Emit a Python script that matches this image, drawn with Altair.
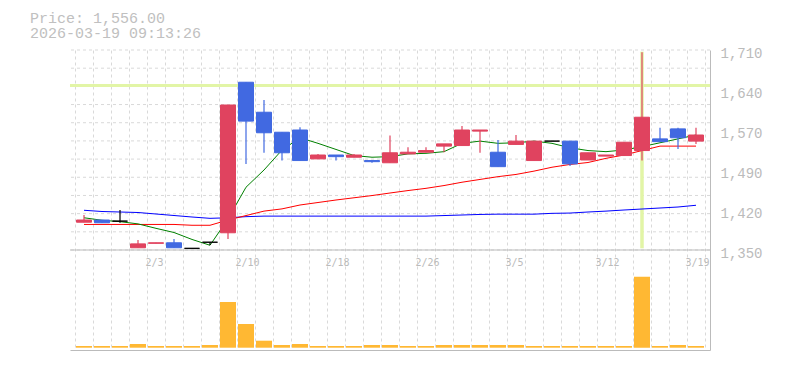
import altair as alt
import pandas as pd
import numpy as np

# ---------------- data ----------------
dates = ["1/28", "1/29", "1/30", "2/2", "2/3", "2/4", "2/5", "2/6", "2/9", "2/10",
         "2/12", "2/13", "2/16", "2/17", "2/18", "2/19", "2/20", "2/24", "2/25", "2/26",
         "2/27", "3/2", "3/3", "3/4", "3/5", "3/6", "3/9", "3/10", "3/11", "3/12",
         "3/13", "3/16", "3/17", "3/18", "3/19"]
opens = [1400, 1404, 1402, 1354, 1362, 1363, 1353, 1364, 1381, 1652,
         1598, 1562, 1566, 1514, 1521, 1517, 1511, 1507, 1523, 1526,
         1537, 1538, 1564, 1526, 1540, 1511, 1546, 1546, 1512, 1519,
         1520, 1529, 1550, 1568, 1546]
highs = [1413, 1404, 1422, 1368, 1363, 1370, 1353, 1364, 1611, 1652,
         1620, 1562, 1571, 1523, 1521, 1523, 1511, 1556, 1535, 1535,
         1541, 1573, 1566, 1548, 1557, 1546, 1546, 1546, 1525, 1521,
         1544, 1706, 1570, 1570, 1570]
lows = [1400, 1399, 1399, 1354, 1362, 1354, 1353, 1359, 1370, 1505,
        1525, 1511, 1511, 1514, 1511, 1517, 1507, 1507, 1523, 1526,
        1526, 1538, 1525, 1500, 1540, 1511, 1546, 1501, 1512, 1519,
        1520, 1511, 1545, 1532, 1541]
closes = [1404, 1399, 1402, 1361, 1363, 1354, 1353, 1364, 1611, 1582,
          1561, 1525, 1511, 1521, 1518, 1521, 1509, 1525, 1526, 1529,
          1541, 1566, 1566, 1500, 1546, 1546, 1546, 1505, 1525, 1521,
          1544, 1589, 1545, 1552, 1557]
volumes = [17000, 17000, 17000, 37000, 17000, 17000, 17000, 27000, 457000, 237000,
           70000, 27000, 37000, 17000, 17000, 17000, 27000, 27000, 17000, 17000,
           27000, 27000, 27000, 27000, 27000, 17000, 17000, 17000, 17000, 17000,
           17000, 710000, 17000, 27000, 17000]
ma_short = [1408, 1403.5, 1401, 1397, 1389, 1381.5, 1369, 1358.5, 1406, 1463,
            1494, 1530, 1552, 1542, 1531, 1520, 1517, 1518, 1523, 1524,
            1527, 1542, 1546, 1542, 1543, 1546, 1542, 1534, 1529, 1527,
            1530, 1536, 1543, 1550, 1557]
ma_mid = [1396, 1396, 1396, 1396, 1396, 1396, 1394.5, 1394.5, 1404, 1412,
          1420, 1424, 1431, 1435.5, 1440, 1444, 1448, 1452.6, 1457, 1461,
          1466, 1472, 1477, 1482, 1486, 1492, 1499, 1504, 1507.5, 1515,
          1521, 1529, 1537, 1537, 1537]
ma_long = [1421.5, 1419.3, 1418.4, 1417.5, 1414.8, 1412.1, 1409.4, 1407, 1408, 1410,
           1411, 1411, 1411, 1411, 1411, 1411, 1411, 1411, 1411, 1411,
           1412, 1413, 1414, 1414.5, 1414.5, 1414.5, 1416, 1416.5, 1418.4, 1420,
           1422, 1423.8, 1425.6, 1427.4, 1430.5]
price_now = 1556.00
timestamp = "2026-03-19 09:13:26"
ref_level = 1646
marker_day = "3/16"
marker_top = 1707
marker_bottom = 1353
price_ticks = [1350, 1422, 1494, 1566, 1638, 1710]
label_days = ["2/3", "2/10", "2/18", "2/26", "3/5", "3/12", "3/19"]

# ---------------- tables ----------------
n = len(dates)
idx = list(range(n))
df = pd.DataFrame(dict(idx=idx, date=dates, open=opens, high=highs, low=lows,
                       close=closes, volume=volumes))
df["dir"] = np.where(df.close > df.open, "up", np.where(df.close < df.open, "down", "flat"))
ma_df = pd.DataFrame(dict(idx=idx, short=ma_short, mid=ma_mid, long=ma_long))

PMIN, PMAX = price_ticks[0], price_ticks[-1]
price_domain = [PMIN - (PMAX - PMIN) / 2, PMAX]
grid_levels = list(np.linspace(PMIN, PMAX, 12))
vol_domain = [-23000, 2977000]

GRAY = "#bbbbbb"
GRID = "#d9d9d9"
UP = "#e0435f"
DOWN = "#4169e1"

boundaries = [i - 0.5 for i in range(n + 1)]
label_expr = " : ".join(
    f"datum.value == {dates.index(d) - 0.5} ? '{d}'" for d in label_days) + " : ''"

x_axis = alt.Axis(values=boundaries, title=None, grid=True, gridDash=[3, 3],
                  gridColor=GRID, gridWidth=1, domain=True, domainColor=GRAY,
                  ticks=False, tickSize=0, labelExpr=label_expr, labelAlign="left",
                  labelBaseline="middle", labelPadding=-88, labelOffset=-2,
                  labelFont="DejaVu Sans Mono", labelFontSize=10, labelColor=GRAY,
                  labelOverlap=False, labelFlush=False)
x_scale = alt.Scale(domain=[-0.5, n - 0.5], nice=False, zero=False)
X = alt.X("idx:Q", scale=x_scale, axis=x_axis)

y_axis = alt.Axis(orient="right", values=price_ticks, title=None, grid=False,
                  ticks=False, tickSize=0, domain=True, domainColor=GRAY,
                  labelExpr="format(round(datum.value/10)*10, ',')",
                  labelFont="Liberation Mono", labelFontSize=14, labelColor=GRAY,
                  labelPadding=10, labelAlign="left", labelBaseline="middle",
                  labelOffset=3, labelFlush=False, labelOverlap=False)
p_scale = alt.Scale(domain=price_domain, nice=False, zero=False)


def PY(field):
    return alt.Y(field, scale=p_scale, axis=y_axis, title=None)


dir_color = alt.Scale(domain=["up", "down", "flat"], range=[UP, DOWN, "#000000"])

base = alt.Chart(df)

hgrid = alt.Chart(pd.DataFrame({"level": grid_levels})).mark_rule(
    color=GRID, strokeDash=[3, 3], strokeWidth=1).encode(y=PY("level:Q"))

bottom_line = alt.Chart(pd.DataFrame({"level": [PMIN]})).mark_rule(
    color=GRAY, strokeWidth=1).encode(y=PY("level:Q"))

ref_line = alt.Chart(pd.DataFrame({"level": [ref_level]})).mark_rule(
    color="#e2f5a6", strokeWidth=3).encode(y=PY("level:Q"))

marker = alt.Chart(pd.DataFrame({"idx": [dates.index(marker_day)], "top": [marker_top],
                                 "bottom": [marker_bottom]})).mark_rule(
    color="#e2f5a6", strokeWidth=3.5).encode(x=X, y=PY("bottom:Q"), y2="top:Q")

line_long = alt.Chart(ma_df).mark_line(color="#0000ff", strokeWidth=1).encode(x=X, y=PY("long:Q"))
line_mid = alt.Chart(ma_df).mark_line(color="#ff0000", strokeWidth=1).encode(x=X, y=PY("mid:Q"))
line_short = alt.Chart(ma_df).mark_line(color="#008000", strokeWidth=1).encode(x=X, y=PY("short:Q"))

wicks = base.mark_rule(strokeWidth=1.2).encode(
    x=X, y=PY("low:Q"), y2="high:Q",
    color=alt.Color("dir:N", scale=dir_color, legend=None))

bodies = base.mark_bar(size=15, strokeWidth=1).encode(
    x=X, y=PY("open:Q"), y2="close:Q",
    color=alt.Color("dir:N", scale=dir_color, legend=None),
    stroke=alt.Stroke("dir:N", scale=dir_color, legend=None))

price = alt.layer(hgrid, bottom_line, ref_line, marker, line_long, line_mid,
                  line_short, wicks, bodies)

vol = base.mark_bar(size=16, color="#ffb833").encode(
    x=X, y=alt.Y("volume:Q", scale=alt.Scale(domain=vol_domain, nice=False, zero=False), axis=None))

chart = alt.layer(price, vol).resolve_scale(y="independent").properties(
    width=640, height=300,
    padding={"left": 70, "top": 50, "right": 75, "bottom": 20},
    autosize=alt.AutoSizeParams(type="none"),
    title=alt.TitleParams(text=[f"Price: {price_now:,.2f}", timestamp], anchor="start",
                          frame="group", dx=-40, font="Liberation Mono", fontSize=15,
                          fontWeight="normal", color="#c0c0c0", lineHeight=15,
                          baseline="bottom", offset=-10),
    background="white",
).configure_view(stroke=None)

chart.save("out.html", embed_options={"renderer": "svg", "actions": False})
